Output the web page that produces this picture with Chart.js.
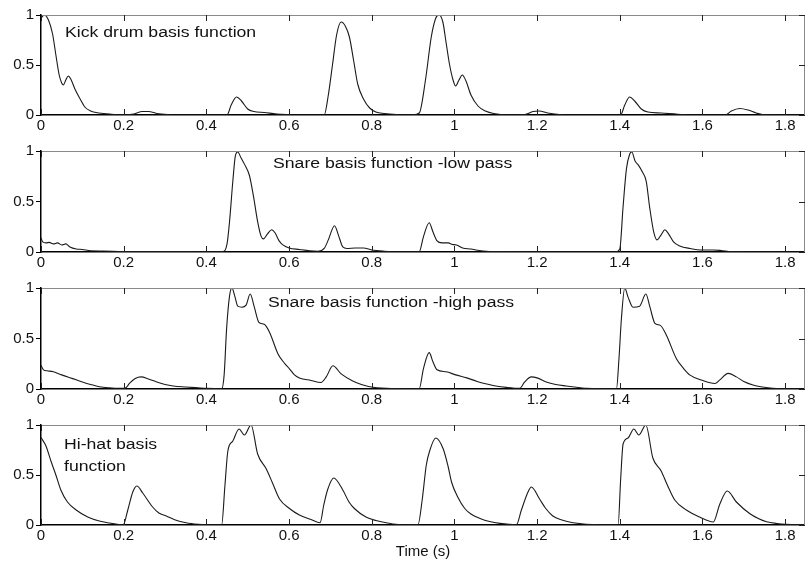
<!DOCTYPE html>
<html>
<head>
<meta charset="utf-8">
<title>Drum basis functions</title>
<script src="https://cdn.jsdelivr.net/npm/chart.js@4.4.1/dist/chart.umd.min.js"></script>
<style>
  html, body { margin: 0; padding: 0; background: #fff; overflow: hidden; }
  .panel { position: absolute; left: 0; width: 805px; }
</style>
</head>
<body>
<div id="p0" class="panel"><canvas id="c0"></canvas></div>
<div id="p1" class="panel"><canvas id="c1"></canvas></div>
<div id="p2" class="panel"><canvas id="c2"></canvas></div>
<div id="p3" class="panel"><canvas id="c3"></canvas></div>
<script>
// axis ticks
const timeTicks = [0, 0.2, 0.4, 0.6, 0.8, 1, 1.2, 1.4, 1.6, 1.8];
const timeLabels = ['0', '0.2', '0.4', '0.6', '0.8', '1', '1.2', '1.4', '1.6', '1.8'];
const levelTicks = [0, 0.5, 1];
const levelLabels = ['0', '0.5', '1'];
const timeMax = 1.848;

// kick drum basis function
const kickTime = [0, 0.008, 0.018, 0.028, 0.036, 0.044, 0.05, 0.054, 0.06, 0.066, 0.072, 0.082, 0.094, 0.106,
  0.12, 0.14, 0.17, 0.2, 0.225, 0.245, 0.26, 0.28, 0.31, 0.33, 0.45, 0.46, 0.473, 0.485, 0.5, 0.515,
  0.54, 0.57, 0.6, 0.62, 0.685, 0.695, 0.705, 0.715, 0.726, 0.736, 0.746, 0.756, 0.766, 0.78, 0.795,
  0.81, 0.83, 0.86, 0.9, 0.915, 0.93, 0.944, 0.955, 0.963, 0.972, 0.98, 0.988, 0.996, 1.003, 1.011,
  1.019, 1.028, 1.04, 1.057, 1.075, 1.095, 1.13, 1.17, 1.19, 1.205, 1.225, 1.26, 1.3, 1.402, 1.412,
  1.424, 1.436, 1.452, 1.468, 1.5, 1.54, 1.58, 1.655, 1.67, 1.69, 1.71, 1.73, 1.745, 1.848];
const kickLevel = [0.97, 1.0, 0.95, 0.81, 0.6, 0.4, 0.32, 0.30, 0.35, 0.39, 0.36, 0.26, 0.165, 0.08,
  0.04, 0.02, 0.008, 0.003, 0.01, 0.035, 0.035, 0.015, 0.003, 0, 0, 0.1, 0.18, 0.14, 0.06, 0.035,
  0.025, 0.01, 0.003, 0, 0, 0.2, 0.5, 0.8, 0.93, 0.89, 0.78, 0.55, 0.31, 0.16, 0.07,
  0.03, 0.015, 0.005, 0.002, 0.02, 0.35, 0.78, 0.97, 1.0, 0.93, 0.72, 0.51, 0.36, 0.29, 0.35,
  0.40, 0.34, 0.2, 0.09, 0.04, 0.015, 0.003, 0.005, 0.035, 0.04, 0.02, 0.003, 0, 0, 0.1,
  0.18, 0.14, 0.06, 0.03, 0.02, 0.008, 0, 0, 0.04, 0.065, 0.05, 0.02, 0.005, 0];

// snare basis function, low pass
const snareLowTime = [0, 0.004, 0.012, 0.02, 0.03, 0.04, 0.05, 0.06, 0.07, 0.085, 0.1, 0.12, 0.15, 0.2,
  0.3, 0.4, 0.44, 0.45, 0.456, 0.464, 0.47, 0.476, 0.484, 0.492, 0.504, 0.514, 0.524, 0.532, 0.538,
  0.548, 0.558, 0.566, 0.576, 0.585, 0.6, 0.625, 0.65, 0.67, 0.685, 0.695, 0.71, 0.72, 0.73, 0.74,
  0.76, 0.78, 0.8, 0.83, 0.87, 0.915, 0.925, 0.939, 0.948, 0.958, 0.97, 0.985, 0.995, 1.005, 1.02,
  1.04, 1.06, 1.09, 1.2, 1.39, 1.4, 1.408, 1.416, 1.424, 1.429, 1.437, 1.445, 1.455, 1.464, 1.472,
  1.482, 1.49, 1.5, 1.509, 1.518, 1.53, 1.545, 1.57, 1.6, 1.625, 1.645, 1.67, 1.848];
const snareLowLevel = [0.14, 0.1, 0.09, 0.095, 0.08, 0.09, 0.07, 0.08, 0.05, 0.03, 0.025, 0.012, 0.01, 0.005,
  0.005, 0.002, 0.005, 0.08, 0.30, 0.7, 0.95, 0.99, 0.93, 0.87, 0.76, 0.55, 0.30, 0.16, 0.13,
  0.18, 0.22, 0.19, 0.11, 0.07, 0.04, 0.025, 0.012, 0.008, 0.035, 0.12, 0.26, 0.16, 0.05, 0.035,
  0.04, 0.04, 0.02, 0.008, 0.002, 0.005, 0.15, 0.29, 0.2, 0.11, 0.09, 0.09, 0.075, 0.07, 0.04,
  0.03, 0.015, 0.004, 0.003, 0.002, 0.03, 0.45, 0.82, 0.97, 0.99, 0.9, 0.86, 0.79, 0.70, 0.45,
  0.2, 0.12, 0.17, 0.22, 0.18, 0.1, 0.06, 0.035, 0.02, 0.02, 0.015, 0.004, 0];

// snare basis function, high pass
const snareHighTime = [0, 0.006, 0.015, 0.03, 0.05, 0.075, 0.1, 0.12, 0.141, 0.165, 0.19, 0.204, 0.215,
  0.228, 0.242, 0.26, 0.28, 0.3, 0.32, 0.35, 0.38, 0.4, 0.437, 0.443, 0.449, 0.456, 0.462, 0.468,
  0.476, 0.486, 0.496, 0.506, 0.516, 0.527, 0.54, 0.553, 0.573, 0.588, 0.601, 0.613, 0.625, 0.653,
  0.677, 0.69, 0.706, 0.726, 0.754, 0.775, 0.795, 0.835, 0.9, 0.915, 0.925, 0.939, 0.948, 0.958,
  0.98, 1.003, 1.03, 1.055, 1.078, 1.1, 1.126, 1.158, 1.17, 1.186, 1.2, 1.222, 1.245, 1.27, 1.3,
  1.32, 1.392, 1.398, 1.404, 1.412, 1.42, 1.432, 1.448, 1.463, 1.473, 1.485, 1.498, 1.513, 1.537,
  1.555, 1.569, 1.597, 1.63, 1.642, 1.662, 1.682, 1.7, 1.722, 1.745, 1.77, 1.848];
const snareHighLevel = [0.235, 0.19, 0.18, 0.17, 0.14, 0.105, 0.07, 0.045, 0.023, 0.012, 0.007, 0.01, 0.06,
  0.105, 0.12, 0.1, 0.07, 0.045, 0.03, 0.02, 0.012, 0.007, 0.003, 0.14, 0.6, 0.92, 1.0, 0.93,
  0.82, 0.81, 0.83, 0.94, 0.81, 0.66, 0.64, 0.56, 0.35, 0.26, 0.20, 0.14, 0.11, 0.085,
  0.065, 0.12, 0.23, 0.15, 0.08, 0.045, 0.023, 0.007, 0.003, 0.005, 0.2, 0.36, 0.27, 0.19,
  0.17, 0.14, 0.11, 0.075, 0.05, 0.03, 0.016, 0.007, 0.07, 0.12, 0.11, 0.07, 0.045, 0.03, 0.015,
  0.007, 0.003, 0.3, 0.7, 1.0, 0.91, 0.81, 0.82, 0.94, 0.81, 0.65, 0.63, 0.53, 0.30,
  0.2, 0.14, 0.09, 0.055, 0.09, 0.155, 0.12, 0.075, 0.04, 0.02, 0.007, 0];

// hi-hat basis function
const hihatTime = [0, 0.012, 0.024, 0.036, 0.048, 0.064, 0.085, 0.113, 0.141, 0.165, 0.181, 0.199, 0.21,
  0.222, 0.232, 0.246, 0.27, 0.285, 0.303, 0.325, 0.351, 0.38, 0.4, 0.437, 0.445, 0.452, 0.464,
  0.479, 0.492, 0.508, 0.524, 0.545, 0.56, 0.577, 0.601, 0.625, 0.653, 0.675, 0.684, 0.693, 0.708,
  0.73, 0.745, 0.758, 0.786, 0.81, 0.835, 0.87, 0.912, 0.922, 0.932, 0.94, 0.955, 0.973, 0.985,
  0.993, 1.008, 1.025, 1.04, 1.062, 1.085, 1.11, 1.15, 1.162, 1.178, 1.186, 1.206, 1.22, 1.238,
  1.26, 1.287, 1.35, 1.396, 1.402, 1.408, 1.42, 1.434, 1.446, 1.463, 1.48, 1.5, 1.515, 1.533,
  1.561, 1.593, 1.626, 1.642, 1.66, 1.682, 1.714, 1.735, 1.755, 1.78, 1.803, 1.848];
const hihatLevel = [0.875, 0.79, 0.64, 0.50, 0.35, 0.23, 0.15, 0.08, 0.04, 0.02, 0.01, 0.003, 0.15,
  0.33, 0.39, 0.32, 0.18, 0.12, 0.09, 0.05, 0.023, 0.008, 0.003, 0.002, 0.4, 0.74, 0.84,
  0.96, 0.90, 1.0, 0.71, 0.56, 0.42, 0.26, 0.165, 0.10, 0.056, 0.023, 0.2, 0.35, 0.47,
  0.35, 0.23, 0.165, 0.08, 0.045, 0.023, 0.003, 0.005, 0.25, 0.6, 0.74, 0.87, 0.76, 0.58,
  0.43, 0.28, 0.165, 0.11, 0.066, 0.035, 0.016, 0.003, 0.15, 0.33, 0.38, 0.26, 0.17, 0.09,
  0.05, 0.023, 0.002, 0.003, 0.45, 0.81, 0.87, 0.96, 0.90, 1.0, 0.67, 0.54, 0.4, 0.25,
  0.15, 0.08, 0.03, 0.21, 0.34, 0.23, 0.115, 0.065, 0.033, 0.015, 0.007, 0.002];

const panels = [
  { time: kickTime, level: kickLevel, note: ['Kick drum basis function'], dx: 24, dy: 22 },
  { time: snareLowTime, level: snareLowLevel, note: ['Snare basis function -low pass'], dx: 232, dy: 17 },
  { time: snareHighTime, level: snareHighLevel, note: ['Snare basis function -high pass'], dx: 227, dy: 19 },
  { time: hihatTime, level: hihatLevel, note: ['Hi-hat basis', 'function'], dx: 23, dy: 24 }
];

// where each plot area sits on the page
const panelTop = [14, 150, 287, 424];
const panelHeight = [101, 102, 102, 101];

const tickFont = { family: '"Liberation Sans", Arial, sans-serif', size: 15 };

// box outline, inward tick marks and the text inside each plot
const framePlugin = {
  id: 'frame',
  afterDraw(chart, args, opts) {
    const { ctx, chartArea: a, scales: { x, y } } = chart;
    ctx.save();
    ctx.lineWidth = 1;
    ctx.strokeStyle = '#8a8a8a';
    ctx.beginPath();
    ctx.moveTo(a.left, a.top + 0.5);
    ctx.lineTo(a.right, a.top + 0.5);
    ctx.moveTo(a.right - 0.5, a.top);
    ctx.lineTo(a.right - 0.5, a.bottom);
    ctx.stroke();

    ctx.strokeStyle = '#222';
    ctx.beginPath();
    x.ticks.forEach(t => {
      const px = Math.round(x.getPixelForValue(t.value)) + 0.5;
      ctx.moveTo(px, a.top);
      ctx.lineTo(px, a.top + 6);
      ctx.moveTo(px, a.bottom);
      ctx.lineTo(px, a.bottom - 6);
    });
    y.ticks.forEach(t => {
      const py = Math.round(y.getPixelForValue(t.value)) + 0.5;
      ctx.moveTo(a.right, py);
      ctx.lineTo(a.right - 6, py);
    });
    ctx.stroke();

    ctx.fillStyle = '#111';
    ctx.font = '14px "Liberation Sans", Arial, sans-serif';
    opts.note.forEach((line, i) => {
      ctx.save();
      ctx.translate(a.left + opts.dx, a.top + opts.dy + i * 22);
      ctx.scale(1.26, 1);
      ctx.fillText(line, 0, 0);
      ctx.restore();
    });
    ctx.restore();
  }
};

panels.forEach((p, i) => {
  const last = i === panels.length - 1;
  const axisH = last ? 40 : 24;
  const box = document.getElementById('p' + i);
  box.style.top = (panelTop[i] - 10) + 'px';
  box.style.height = (panelHeight[i] + 10 + axisH) + 'px';

  new Chart(document.getElementById('c' + i), {
    type: 'line',
    data: {
      datasets: [{
        data: p.time.map((t, k) => ({ x: t, y: p.level[k] })),
        borderColor: '#1a1a1a',
        borderWidth: 1.1,
        pointRadius: 0,
        fill: false,
        cubicInterpolationMode: 'monotone'
      }]
    },
    options: {
      responsive: true,
      maintainAspectRatio: false,
      animation: false,
      layout: { padding: { top: 10, right: 0, bottom: 0, left: 0 } },
      plugins: {
        legend: { display: false },
        tooltip: { enabled: false },
        frame: { note: p.note, dx: p.dx, dy: p.dy }
      },
      scales: {
        x: {
          type: 'linear',
          min: 0,
          max: timeMax,
          afterBuildTicks: s => { s.ticks = timeTicks.map(v => ({ value: v })); },
          afterFit: s => { s.height = axisH; },
          grid: { display: false, drawTicks: false },
          border: { color: '#000', width: 1.5 },
          ticks: {
            callback: (v, k) => timeLabels[k],
            font: tickFont,
            color: '#111',
            padding: 2,
            maxRotation: 0,
            autoSkip: false
          },
          title: {
            display: last,
            text: 'Time (s)',
            color: '#111',
            padding: { top: 0, bottom: 4 },
            font: { family: '"Liberation Sans", Arial, sans-serif', size: 15 }
          }
        },
        y: {
          min: 0,
          max: 1,
          afterBuildTicks: s => { s.ticks = levelTicks.map(v => ({ value: v })); },
          afterFit: s => { s.width = 41; },
          grid: { drawOnChartArea: false, tickLength: 5, color: '#000' },
          border: { color: '#000', width: 1.5 },
          ticks: {
            callback: (v, k) => levelLabels[k],
            font: tickFont,
            color: '#111',
            padding: 2
          }
        }
      }
    },
    plugins: [framePlugin]
  });
});
</script>
</body>
</html>
